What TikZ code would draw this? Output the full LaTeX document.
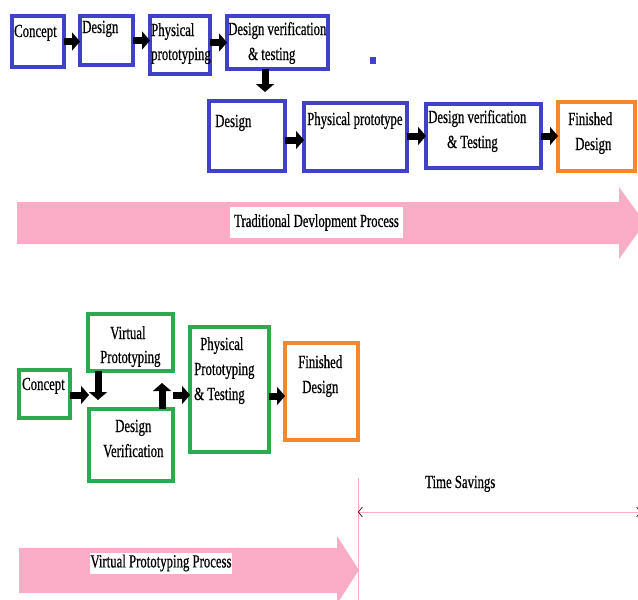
\documentclass[tikz,border=0pt]{standalone}
\usepackage{fontspec}
\setmainfont{Liberation Serif}[FakeStretch=0.69,FakeBold=0.6]
\usetikzlibrary{arrows.meta}
\definecolor{vblue}{RGB}{65,65,200}
\definecolor{vgreen}{RGB}{45,170,80}
\definecolor{vorange}{RGB}{245,135,45}
\definecolor{vpink}{RGB}{251,173,200}
\begin{document}
\begin{tikzpicture}[x=1pt,y=-1pt,
  bbox/.style={rectangle,draw=vblue,line width=4pt,fill=white,inner sep=0pt,outer sep=0pt},
  gbox/.style={bbox,draw=vgreen,line width=4.5pt},
  obox/.style={bbox,draw=vorange},
  txt/.style={anchor=base west,inner sep=0pt,font=\fontsize{18.5}{22}\selectfont},
  arr/.style={line width=7pt,-{Triangle[length=8pt,width=18pt]}},
  plab/.style={fill=white,inner sep=0pt,font=\fontsize{18.5}{22}\selectfont},
  tsline/.style={draw=vpink,line width=0.8pt}
]
\useasboundingbox (0,0) rectangle (638,600);
\clip (0,0) rectangle (638,600);

% pink process arrows
\fill[vpink] (17,202) -- (619,202) -- (619,187) -- (645,223) -- (619,259) -- (619,244) -- (17,244) -- cycle;
\node[plab,minimum width=173pt,minimum height=31pt] (lab1) at (316.5,222.5) {Traditional Devlopment Process};
\fill[vpink] (19,548) -- (337,548) -- (337,536) -- (359,570) -- (337,604) -- (337,593) -- (19,593) -- cycle;
\node[plab,minimum width=142pt,minimum height=21pt] (lab2) at (161,563) {Virtual Prototyping Process};

% time savings
\coordinate (vl1) at (358,478);
\coordinate (vl2) at (358,600);
\draw[tsline] (vl1) -- (vl2);
\coordinate (ts1) at (358,512);
\coordinate (ts2) at (641,512);
\draw[tsline,{Straight Barb[color=black,length=4pt,width=10pt,line width=0.6pt]}-{Straight Barb[color=black,length=4pt,width=10pt,line width=0.6pt]}] (ts1) -- (ts2);
\node[txt] (tst) at (425,488) {Time Savings};

% small blue mark
\fill[vblue] (370,57) rectangle (376,64);

% top row
\node[bbox,minimum width=52pt,minimum height=51pt] (c1) at (38,41.5) {};
\node[bbox,minimum width=53pt,minimum height=49pt] (d1) at (106.5,40.5) {};
\node[bbox,minimum width=60pt,minimum height=58pt] (p1) at (180,45) {};
\node[bbox,minimum width=101pt,minimum height=53pt] (v1) at (277.5,42.5) {};
\node[txt] (c1t) at (14,37) {Concept};
\node[txt] (d1t) at (82,33) {Design};
\node[txt] (p1ta) at (151,36) {Physical};
\node[txt] (p1tb) at (151,60) {prototyping};
\node[txt] (v1ta) at (228,35) {Design verification};
\node[txt] (v1tb) at (248,60) {\& testing};
\draw[arr] (c1.east) -- (c1.east -| d1.west);
\draw[arr] (d1.east) -- (d1.east -| p1.west);
\draw[arr] (v1.west -| p1.east) -- (v1.west);
\coordinate (dn) at (265,92);
\draw[arr] (v1.south -| dn) -- (dn);

% second row
\node[bbox,minimum width=76pt,minimum height=70pt] (d2) at (247,136) {};
\node[bbox,minimum width=103pt,minimum height=68pt] (p2) at (355.5,137) {};
\node[bbox,minimum width=115pt,minimum height=64pt] (v2) at (483.5,136) {};
\node[obox,minimum width=77pt,minimum height=69pt] (f2) at (596.5,136.5) {};
\node[txt] (d2t) at (215,127) {Design};
\node[txt] (p2t) at (307,125) {Physical prototype};
\node[txt] (v2ta) at (428,123) {Design verification};
\node[txt] (v2tb) at (447,148) {\& Testing};
\node[txt] (f2ta) at (568,125) {Finished};
\node[txt] (f2tb) at (575,150) {Design};
\coordinate (r2a) at (0,140);
\coordinate (r2b) at (0,136);
\draw[arr] (d2.east |- r2a) -- (p2.west |- r2a);
\draw[arr] (p2.east |- r2b) -- (v2.west |- r2b);
\draw[arr] (v2.east |- r2b) -- (f2.west |- r2b);

% bottom section
\node[gbox,minimum width=51pt,minimum height=48pt] (c3) at (44.5,394) {};
\node[gbox,minimum width=85pt,minimum height=57pt] (vp) at (130.5,342.5) {};
\node[gbox,minimum width=84pt,minimum height=72pt] (dv) at (131,445) {};
\node[gbox,minimum width=79pt,minimum height=125pt] (pp) at (229.5,389.5) {};
\node[obox,line width=4.5pt,minimum width=73pt,minimum height=97pt] (fd) at (321.5,391.5) {};
\node[txt] (c3t) at (22,390) {Concept};
\node[txt] (vpta) at (110,339) {Virtual};
\node[txt] (vptb) at (100,363) {Prototyping};
\node[txt] (dvta) at (115,432) {Design};
\node[txt] (dvtb) at (103,457) {Verification};
\node[txt] (ppta) at (200,350) {Physical};
\node[txt] (pptb) at (194,375) {Prototyping};
\node[txt] (pptc) at (194,400) {\& Testing};
\node[txt] (fdta) at (298,368) {Finished};
\node[txt] (fdtb) at (302,393) {Design};
\coordinate (m1) at (89,395);
\coordinate (m2) at (98,400);
\coordinate (m3) at (162,383);
\coordinate (m4) at (173,395);
\coordinate (m5) at (0,396);
\draw[arr] (c3.east |- m1) -- (m1);
\draw[arr] (vp.south -| m2) -- (m2);
\draw[arr] (dv.north -| m3) -- (m3);
\draw[arr] (m4) -- (pp.west |- m4);
\draw[arr] (pp.east |- m5) -- (fd.west |- m5);
\end{tikzpicture}
\end{document}
